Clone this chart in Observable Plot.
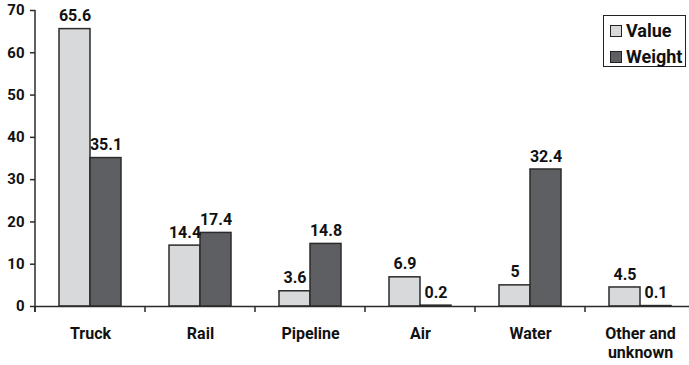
<!DOCTYPE html>
<html>
<head>
<meta charset="utf-8">
<script src="https://cdn.jsdelivr.net/npm/d3@7"></script>
<script src="https://cdn.jsdelivr.net/npm/@observablehq/plot@0.6"></script>
<style>
  html, body { margin: 0; padding: 0; background: #fff; }
  #wrap { position: relative; width: 689px; height: 365px; overflow: hidden;
    font-family: Roboto, "DejaVu Sans Condensed", sans-serif; font-weight: bold; color: #111; }
  #legend { position: absolute; left: 603px; top: 15px; width: 81px; height: 50px; border: 1.5px solid #222; background: #fff; }
  .item { position: absolute; left: 6px; display: flex; align-items: center; font-size: 18px; line-height: 20px; }
  .sw { width: 10px; height: 10px; border: 1px solid #222; margin-right: 4px; }
</style>
</head>
<body>
<div id="wrap"></div>
<script>
const categories = ["Truck", "Rail", "Pipeline", "Air", "Water", "Other and\nunknown"];
const seriesNames = ["Value", "Weight"];
const valueShare = [65.6, 14.4, 3.6, 6.9, 5, 4.5];
const weightShare = [35.1, 17.4, 14.8, 0.2, 32.4, 0.1];
const yTicks = [0, 10, 20, 30, 40, 50, 60, 70];
const seriesColors = ["#d8d9db", "#5e5f63"];

const data = categories.flatMap((c, i) => [
  {category: c, series: seriesNames[0], share: valueShare[i]},
  {category: c, series: seriesNames[1], share: weightShare[i]}
]);

const font = "Roboto, 'DejaVu Sans Condensed', sans-serif";

const plot = Plot.plot({
  width: 689,
  height: 365,
  marginLeft: 33,
  marginRight: -7,
  marginTop: 10,
  marginBottom: 59,
  style: {fontFamily: font, fontWeight: "bold", color: "#111", background: "#fff"},
  fx: {domain: categories, padding: 0, label: null},
  x: {domain: seriesNames, paddingInner: 0, paddingOuter: 0.75, axis: null},
  y: {domain: [0, 70], label: null},
  color: {domain: seriesNames, range: seriesColors},
  marks: [
    Plot.barY(data, {fx: "category", x: "series", y: "share", fill: "series", stroke: "#2b2b2b", strokeWidth: 1.5}),
    Plot.text(data, {fx: "category", x: "series", y: "share", text: d => String(d.share), dy: -13, fontSize: 16, fontWeight: "bold", fill: "#111"}),
    Plot.ruleY([0], {stroke: "#2b2b2b", strokeWidth: 1.5}),
    Plot.axisY({ticks: yTicks, tickSize: 5, tickPadding: 6, fontSize: 15, fontWeight: "bold", label: null, stroke: "#2b2b2b", strokeWidth: 1.5}),
    Plot.axisFx({anchor: "bottom", tickSize: 0, tickPadding: 19, fontSize: 16, fontWeight: "bold", label: null, lineHeight: 1.2})
  ]
});

// axis line and category boundary ticks, positioned from the plot's own scales
const fx = plot.scale("fx");
const y = plot.scale("y");
const svg = d3.select(plot);
const g = svg.append("g").attr("stroke", "#2b2b2b").attr("stroke-width", 1.5);
const x0 = fx.apply(categories[0]);
g.append("line").attr("x1", x0).attr("x2", x0).attr("y1", y.apply(0) + 6).attr("y2", y.apply(yTicks[yTicks.length - 1]));
categories.forEach(c => {
  const xx = fx.apply(c);
  g.append("line").attr("x1", xx).attr("x2", xx).attr("y1", y.apply(0)).attr("y2", y.apply(0) + 6);
});

const wrap = document.getElementById("wrap");
wrap.appendChild(plot);

const legend = document.createElement("div");
legend.id = "legend";
seriesNames.forEach((s, i) => {
  const item = document.createElement("div");
  item.className = "item";
  item.style.top = (5 + i * 26) + "px";
  const sw = document.createElement("span");
  sw.className = "sw";
  sw.style.background = seriesColors[i];
  const t = document.createElement("span");
  t.textContent = s;
  item.appendChild(sw);
  item.appendChild(t);
  legend.appendChild(item);
});
wrap.appendChild(legend);
</script>
</body>
</html>
